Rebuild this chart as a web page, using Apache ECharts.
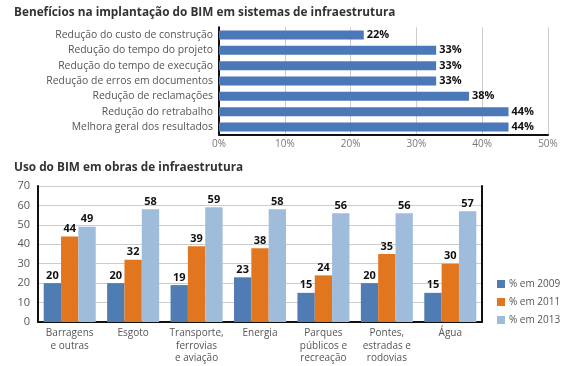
<!DOCTYPE html>
<html><head><meta charset="utf-8">
<script src="https://cdn.jsdelivr.net/npm/echarts@6/dist/echarts.min.js"></script>
<style>html,body{margin:0;padding:0;background:#fff}#c{width:578px;height:366px}</style>
</head><body><div id="c"></div>
<script>
var benefitCats = ['Redução do custo de construção','Redução do tempo do projeto','Redução do tempo de execução','Redução de erros em documentos','Redução de reclamações','Redução do retrabalho','Melhora geral dos resultados'];
var benefitVals = [22,33,33,33,38,44,44];
var useCats = ['Barragens\ne outras','Esgoto','Transporte,\nferrovias\ne aviação','Energia','Parques\npúblicos e\nrecreação','Pontes,\nestradas e\nrodovias','Água'];
var use2009 = [20,20,19,23,15,20,15];
var use2011 = [44,32,39,38,24,35,30];
var use2013 = [49,58,59,58,56,56,57];
var seriesNames = ['% em 2009','% em 2011','% em 2013'];

var FONT = 'Open Sans';
var chart = echarts.init(document.getElementById('c'), null, {renderer:'canvas'});
var valLabel = {show:true, position:'top', color:'#111', fontWeight:'bold', fontSize:11, fontFamily:FONT, distance:2};
chart.setOption({
  animation:false,
  textStyle:{fontFamily:FONT},
  title:[
    {text:'Benefícios na implantação do BIM em sistemas de infraestrutura', left:9, top:2, textStyle:{fontSize:11.8, fontWeight:'bold', color:'#333', fontFamily:FONT}},
    {text:'Uso do BIM em obras de infraestrutura', left:9, top:157, textStyle:{fontSize:11.8, fontWeight:'bold', color:'#333', fontFamily:FONT}}
  ],
  legend:{data:seriesNames, orient:'vertical', left:492, top:274, itemWidth:8, itemHeight:8, itemGap:8, icon:'rect',
    textStyle:{color:'#555', fontSize:10, fontFamily:FONT, padding:[0,0,0,-1]}},
  grid:[
    {left:219, right:30, top:27.3, bottom:231.3},
    {left:38, right:96, top:186, bottom:44}
  ],
  xAxis:[
    {gridIndex:0, type:'value', min:0, max:50, interval:10,
      axisLabel:{formatter:'{value}%', color:'#777', fontSize:10, fontFamily:FONT, margin:4},
      axisLine:{show:true, lineStyle:{color:'#111', width:2}}, axisTick:{show:false},
      splitLine:{lineStyle:{color:'#ccc'}}},
    {gridIndex:1, type:'category', data:useCats,
      axisLabel:{color:'#555', fontSize:10, fontFamily:FONT, lineHeight:12.5, margin:5, interval:0},
      axisLine:{lineStyle:{color:'#111', width:2}}, axisTick:{show:false}}
  ],
  yAxis:[
    {gridIndex:0, type:'category', data:benefitCats, inverse:true,
      axisLabel:{color:'#555', fontSize:10.4, fontFamily:FONT, margin:6},
      axisLine:{lineStyle:{color:'#111', width:2}}, axisTick:{show:false}},
    {gridIndex:1, type:'value', min:0, max:70, interval:10,
      axisLabel:{color:'#555', fontSize:11, fontFamily:FONT, margin:8},
      axisLine:{show:true, lineStyle:{color:'#111', width:2}}, axisTick:{show:false},
      splitLine:{lineStyle:{color:'#ccc'}}},
    {gridIndex:1, type:'value', min:0, max:70, interval:10, position:'right',
      axisLabel:{show:false}, axisTick:{show:false}, splitLine:{show:false},
      axisLine:{show:true, lineStyle:{color:'#111', width:2}}}
  ],
  series:[
    {type:'bar', xAxisIndex:0, yAxisIndex:0, data:benefitVals, barWidth:9,
      itemStyle:{color:'#4a78b8'},
      label:{show:true, position:'right', formatter:'{c}%', color:'#111', fontWeight:'bold', fontSize:11, fontFamily:FONT, distance:3}},
    {type:'bar', name:seriesNames[0], xAxisIndex:1, yAxisIndex:1, data:use2009, barGap:'0%', barCategoryGap:'18%',
      itemStyle:{color:'#4e7cb3'}, label:valLabel},
    {type:'bar', name:seriesNames[1], xAxisIndex:1, yAxisIndex:1, data:use2011, barGap:'0%', barCategoryGap:'18%',
      itemStyle:{color:'#e2761f'}, label:valLabel},
    {type:'bar', name:seriesNames[2], xAxisIndex:1, yAxisIndex:1, data:use2013, barGap:'0%', barCategoryGap:'18%',
      itemStyle:{color:'#9fbddb'}, label:valLabel}
  ]
});
</script></body></html>
